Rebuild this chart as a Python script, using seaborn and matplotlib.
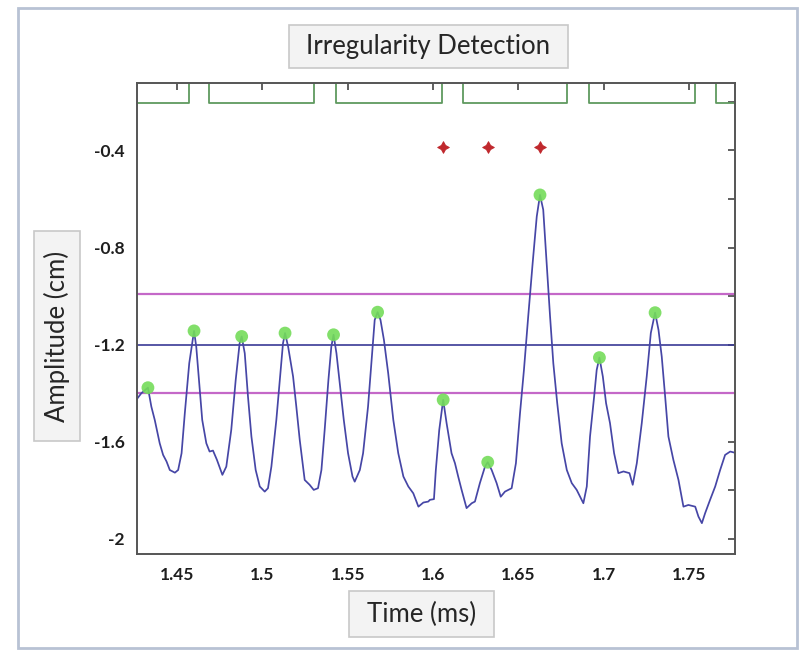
import matplotlib
matplotlib.use("Agg")
import matplotlib.pyplot as plt
import matplotlib.patches as mpatches
from matplotlib.ticker import MultipleLocator
import pandas as pd
import seaborn as sns

# signal trace
time_ms = [1.4262, 1.4291, 1.4330, 1.4350, 1.4370, 1.4399, 1.4419, 1.4439, 1.4458, 1.4488,
           1.4507, 1.4527, 1.4546, 1.4572, 1.4600, 1.4613, 1.4629, 1.4648, 1.4672, 1.4691,
           1.4711, 1.4734, 1.4766, 1.4789, 1.4818, 1.4844, 1.4867, 1.4879, 1.4897, 1.4916,
           1.4936, 1.4961, 1.4985, 1.5014, 1.5033, 1.5053, 1.5082, 1.5106, 1.5121, 1.5133,
           1.5151, 1.5180, 1.5199, 1.5219, 1.5248, 1.5277, 1.5301, 1.5326, 1.5346, 1.5365,
           1.5387, 1.5404, 1.5417, 1.5434, 1.5453, 1.5477, 1.5502, 1.5528, 1.5541, 1.5571,
           1.5590, 1.5619, 1.5643, 1.5658, 1.5675, 1.5692, 1.5712, 1.5737, 1.5767, 1.5796,
           1.5826, 1.5855, 1.5884, 1.5914, 1.5943, 1.5972, 1.5981, 1.6005, 1.6016, 1.6036,
           1.6059, 1.6079, 1.6108, 1.6128, 1.6147, 1.6167, 1.6196, 1.6226, 1.6245, 1.6274,
           1.6304, 1.6320, 1.6343, 1.6372, 1.6396, 1.6421, 1.6460, 1.6485, 1.6509, 1.6532,
           1.6557, 1.6583, 1.6607, 1.6626, 1.6645, 1.6665, 1.6685, 1.6704, 1.6727, 1.6753,
           1.6783, 1.6812, 1.6841, 1.6880, 1.6900, 1.6919, 1.6943, 1.6958, 1.6974, 1.6994,
           1.7013, 1.7036, 1.7060, 1.7085, 1.7115, 1.7150, 1.7169, 1.7193, 1.7222, 1.7251,
           1.7275, 1.7300, 1.7320, 1.7339, 1.7359, 1.7378, 1.7407, 1.7437, 1.7466, 1.7495,
           1.7535, 1.7554, 1.7574, 1.7593, 1.7622, 1.7652, 1.7681, 1.7710, 1.7740, 1.7768]
amplitude = [-1.427, -1.400, -1.377, -1.455, -1.510, -1.606, -1.654, -1.681, -1.716, -1.727,
             -1.716, -1.647, -1.482, -1.276, -1.143, -1.208, -1.345, -1.510, -1.606, -1.640,
             -1.636, -1.674, -1.736, -1.702, -1.551, -1.345, -1.194, -1.166, -1.235, -1.414,
             -1.578, -1.716, -1.784, -1.805, -1.791, -1.702, -1.510, -1.317, -1.194, -1.152,
             -1.208, -1.331, -1.455, -1.592, -1.757, -1.777, -1.798, -1.791, -1.716, -1.551,
             -1.345, -1.208, -1.159, -1.235, -1.358, -1.510, -1.647, -1.743, -1.764, -1.716,
             -1.647, -1.455, -1.235, -1.098, -1.066, -1.098, -1.180, -1.317, -1.510, -1.647,
             -1.743, -1.784, -1.812, -1.867, -1.850, -1.846, -1.839, -1.836, -1.716, -1.551,
             -1.427, -1.523, -1.647, -1.688, -1.743, -1.798, -1.873, -1.853, -1.846, -1.770,
             -1.702, -1.684, -1.716, -1.770, -1.826, -1.805, -1.791, -1.688, -1.482, -1.304,
             -1.084, -0.864, -0.672, -0.583, -0.644, -0.864, -1.084, -1.276, -1.441, -1.606,
             -1.716, -1.770, -1.798, -1.853, -1.784, -1.578, -1.414, -1.304, -1.253, -1.331,
             -1.441, -1.523, -1.647, -1.729, -1.722, -1.729, -1.777, -1.688, -1.523, -1.331,
             -1.152, -1.068, -1.139, -1.249, -1.414, -1.578, -1.674, -1.757, -1.867, -1.860,
             -1.867, -1.908, -1.935, -1.894, -1.839, -1.784, -1.716, -1.654, -1.640, -1.645]

# detected peaks
peak_time = [1.4330, 1.4600, 1.4879, 1.5133, 1.5417, 1.5675, 1.6059, 1.6320, 1.6626, 1.6974, 1.7300]
peak_amp = [-1.377, -1.143, -1.166, -1.152, -1.159, -1.066, -1.427, -1.684, -0.583, -1.253, -1.068]

# irregular beats flagged
irregular_time = [1.6059, 1.6320, 1.6626]
irregular_level = [-0.385, -0.385, -0.385]

# thresholds
upper_thr = -0.99
mean_level = -1.20
lower_thr = -1.40

# detection window (step signal)
window_time = [1.4266, 1.4570, 1.4688, 1.5303, 1.5430, 1.6052, 1.6173, 1.6783, 1.6915, 1.7535, 1.7658, 1.7768]
window_level = [-0.205, -0.10, -0.205, -0.10, -0.205, -0.10, -0.205, -0.10, -0.205, -0.10, -0.205, -0.205]

trace_df = pd.DataFrame({'Time': time_ms, 'Amplitude': amplitude})
peaks_df = pd.DataFrame({'Time': peak_time, 'Amplitude': peak_amp})
irr_df = pd.DataFrame({'Time': irregular_time, 'Amplitude': irregular_level})

sns.set_style("white")
plt.rcParams['font.family'] = ['Lato', 'DejaVu Sans']

fig = plt.figure(figsize=(8.08, 6.58), dpi=100)
W, H = 808, 658
ax = fig.add_axes([137 / W, 1 - 554 / H, 598 / W, 471 / H])

ax.step(window_time, window_level, where='post', color='#5f9a5f', linewidth=1.3)
ax.axhline(upper_thr, color='#c468c8', linewidth=1.6)
ax.axhline(mean_level, color='#3a3a96', linewidth=1.2)
ax.axhline(lower_thr, color='#c468c8', linewidth=1.6)
sns.lineplot(data=trace_df, x='Time', y='Amplitude', ax=ax, color='#4646a6',
             linewidth=1.25, sort=False)
sns.scatterplot(data=peaks_df, x='Time', y='Amplitude', ax=ax, color='#74dc5a',
                s=85, edgecolor='none', alpha=0.9, zorder=5)
sns.scatterplot(data=irr_df, x='Time', y='Amplitude', ax=ax, color='#c0282d',
                marker=(4, 1, 0), s=70, edgecolor='#c0282d', zorder=5)

ax.set_xlim(1.4266, 1.7768)
ax.set_ylim(-2.062, -0.122)
ax.set_xticks([1.45, 1.5, 1.55, 1.6, 1.65, 1.7, 1.75])
ax.set_xticklabels(['1.45', '1.5', '1.55', '1.6', '1.65', '1.7', '1.75'])
ax.set_yticks([-2, -1.6, -1.2, -0.8, -0.4])
ax.set_yticklabels(['-2', '-1.6', '-1.2', '-0.8', '-0.4'])
ax.yaxis.set_minor_locator(MultipleLocator(0.2))
ax.tick_params(axis='both', which='both', direction='in', top=True, right=True,
               length=5, width=1.2, color='#444444')
ax.tick_params(axis='both', which='major', labelsize=12.5, pad=9, labelcolor='#1e1e1e')
for lbl in ax.get_xticklabels() + ax.get_yticklabels():
    lbl.set_fontweight('bold')
for sp in ax.spines.values():
    sp.set_color('#555555')
    sp.set_linewidth(1.4)
ax.set_xlabel('')
ax.set_ylabel('')

# window border
fig.patches.append(mpatches.Rectangle((18 / W, 1 - 648 / H), 779 / W, 640 / H,
                                      transform=fig.transFigure, fill=False,
                                      edgecolor='#b8c2d4', linewidth=2))

def boxed_text(x0, y0, x1, y1, text, rotation=0):
    fig.patches.append(mpatches.Rectangle((x0 / W, 1 - y1 / H), (x1 - x0) / W, (y1 - y0) / H,
                                          transform=fig.transFigure, facecolor='#f3f3f3',
                                          edgecolor='#c8c8c8', linewidth=1.2))
    fig.text((x0 + x1) / 2 / W, 1 - (y0 + y1) / 2 / H, text, ha='center', va='center',
             rotation=rotation, fontsize=18.5, color='#262626')

boxed_text(289, 25, 568, 68, 'Irregularity Detection')
boxed_text(34, 231, 80, 441, 'Amplitude (cm)', rotation=90)
boxed_text(349, 591, 494, 637, 'Time (ms)')

fig.savefig('out.png', dpi=100)
